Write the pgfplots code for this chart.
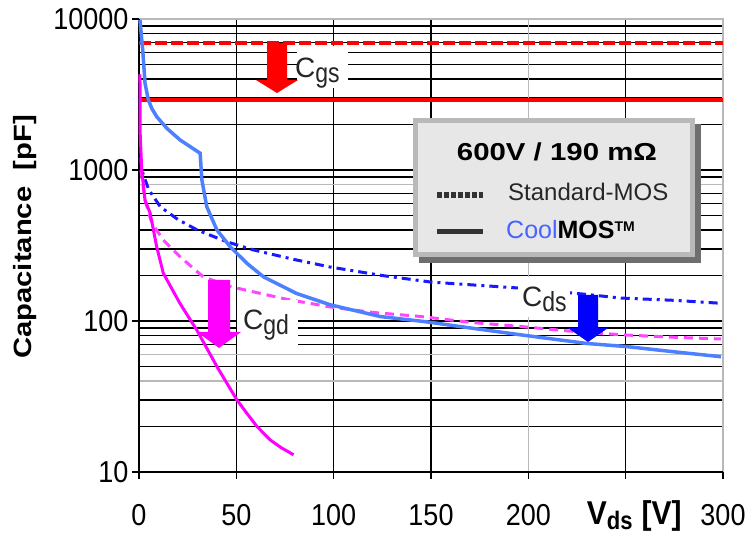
\documentclass[border=0pt]{standalone}
\usepackage{pgfplots}
\pgfplotsset{compat=1.18}
\usepackage{fontspec}
\setmainfont{Liberation Sans}
\usepackage{graphicx}
\definecolor{cblue}{RGB}{77,128,255}
\definecolor{dblue}{RGB}{25,25,255}
\definecolor{mag}{RGB}{255,0,255}
\definecolor{magd}{RGB}{255,70,255}
\definecolor{gridgray}{RGB}{185,185,185}
\definecolor{legfill}{RGB}{231,231,231}
\definecolor{legborder}{RGB}{185,185,185}
\definecolor{legshadow}{RGB}{110,110,110}
\definecolor{cooltext}{RGB}{70,100,255}
\newcommand\tl[1]{\scalebox{1}[1.12]{#1}}
\newcommand\capl[2]{\fontsize{28}{28}\selectfont C\raisebox{-5pt}{\scalebox{1}[1.2]{\fontsize{23}{23}\selectfont #2}}}
\begin{document}
\begin{tikzpicture}
\path[use as bounding box] (-139pt,-65pt) rectangle (616pt,472pt);
\begin{axis}[
  at={(0pt,0pt)}, anchor=south west,
  scale only axis, width=584pt, height=453pt,
  xmin=0, xmax=300, ymin=10, ymax=10000, ymode=log,
  clip=false,
  axis line style={draw=none},
  xtick={0,50,100,150,200,250,300},
  xticklabels={\tl{0},\tl{50},\tl{100},\tl{150},\tl{200},,\tl{300}},
  ytick={10,100,1000,10000},
  yticklabels={\tl{10},\tl{100},\tl{1000},\tl{10000}},
  minor ytick={20,30,40,50,60,70,80,90,200,300,400,500,600,700,800,900,2000,3000,4000,5000,6000,7000,8000,9000},
  xmajorgrids, ymajorgrids, yminorgrids,
  major grid style={black, line width=1.4pt},
  minor grid style={black, line width=1.4pt},
  tick align=outside, xtick pos=bottom, ytick pos=left,
  major tick length=7pt, minor tick length=0pt,
  tick style={black, line width=1.4pt},
  tick label style={font=\fontsize{27}{27}\selectfont},
  xticklabel style={yshift=-22pt},
  xlabel={\scalebox{1}[1.1]{\bfseries V}\raisebox{-5pt}{\scalebox{1}[1.15]{\fontsize{22}{22}\selectfont\bfseries ds}}\hspace{9pt}\scalebox{1}[1.1]{\bfseries [V]}},
  xlabel style={at={(axis description cs:0.848,-0.117)}, anchor=base, font=\fontsize{30}{30}\selectfont},
  ylabel={\scalebox{1.17}[1]{\bfseries Capacitance\ \ [pF]}},
  ylabel style={at={(axis description cs:-0.1955,0.519)}, anchor=center, font=\fontsize{25}{25}\selectfont},
]
% grey grid lines and frame
\draw[gridgray, line width=1.6pt] (axis cs:200,10) -- (axis cs:200,10000);
\draw[gridgray, line width=1.4pt] (axis cs:0,800) -- (axis cs:300,800);
\draw[gridgray, line width=1.4pt] (axis cs:0,60) -- (axis cs:300,60);
\draw[gridgray, line width=1.4pt] (axis cs:0,40) -- (axis cs:300,40);
\draw[gridgray, line width=1.8pt] (axis cs:0,10000) -- (axis cs:300,10000) -- (axis cs:300,10);
\draw[black, line width=1.8pt] (axis cs:0,10000) -- (axis cs:0,10) -- (axis cs:300,10);

% Cgs
\addplot[red, line width=3.8pt, dash pattern=on 12pt off 4pt] coordinates {(0,6900) (300,6900)};
\addplot[red, line width=4.5pt] coordinates {(0,2900) (300,2900)};

% Cds standard (dashed)
\addplot[dblue, line width=3pt, dash pattern=on 9pt off 5pt on 3pt off 5pt] coordinates {
(0.5,1200) (2,950) (5,740) (11,570) (20,470) (30,400) (45,335) (59,295)
(80,255) (98,228) (125,200) (150,181) (196,165) (230,150) (247,142) (275,137) (299,131)};

% Cgd standard (dashed)
\addplot[magd, line width=3pt, dash pattern=on 9pt off 6pt] coordinates {
(1,1000) (3,640) (6,470) (9,400) (12.5,344) (21,267) (33,196) (47,169) (55,160)
(75,140) (98,124) (120,114) (145,107) (170,98) (196,92) (220,86) (248,81) (275,78) (299,76)};

% Cds CoolMOS (solid)
\addplot[cblue, line width=3.5pt] coordinates {
(0.5,9850) (1.9,6240) (3.1,3750) (4.8,2910) (6.5,2566) (9.1,2254) (14.3,1888) (21.1,1581) (31.4,1291)
(32.3,860) (34.8,572) (40,401) (46.8,311) (55.4,241) (64,196) (81,152) (98.3,128)
(124,107) (147,99) (170,90) (196,81) (230,71) (251,67.6) (275,62.5) (299,58)};

% Cgd CoolMOS (solid)
\addplot[mag, line width=3pt] coordinates {
(0.5,4300) (0.6,1760) (1.4,1000) (3.1,630) (5.7,519) (9.1,310) (12.5,207) (21,131)
(29.7,87) (40,50) (50.3,30) (55.4,24.5) (60.6,20) (67.4,16.3) (73,14.5) (79.4,13)};
\end{axis}

% label backgrounds
\fill[white] (158pt,384pt) rectangle (209pt,426pt);
\fill[white] (98pt,124pt) rectangle (159pt,172pt);
\fill[white] (379pt,155pt) rectangle (431pt,195pt);

% arrows
\fill[red] (128pt,429pt) -- (148pt,429pt) -- (148pt,392pt) -- (159pt,392pt) -- (138pt,379pt) -- (117pt,392pt) -- (128pt,392pt) -- cycle;
\fill[mag] (69pt,192pt) -- (91pt,192pt) -- (91pt,140pt) -- (102pt,140pt) -- (80pt,124pt) -- (58pt,140pt) -- (69pt,140pt) -- cycle;
\fill[blue] (439pt,177pt) -- (459pt,177pt) -- (459pt,144pt) -- (469pt,144pt) -- (449pt,130pt) -- (429pt,144pt) -- (439pt,144pt) -- cycle;

% labels
\node[anchor=base west, inner sep=0pt, text=black!85] at (156pt,394pt) {\capl{C}{gs}};
\node[anchor=base west, inner sep=0pt, text=black!85] at (104pt,142pt) {\capl{C}{gd}};
\node[anchor=base west, inner sep=0pt, text=black!85] at (383pt,165pt) {\capl{C}{ds}};

% legend box
\fill[legshadow] (280pt,209pt) rectangle (562pt,348pt);
\fill[legfill] (274pt,215pt) rectangle (556pt,354pt);
\draw[legborder, line width=5pt] (276.5pt,217.5pt) rectangle (553.5pt,351.5pt);
\node[anchor=center, inner sep=0pt] at (418pt,320pt) {\scalebox{1.2}[1]{\fontsize{24.5}{24.5}\selectfont\bfseries 600V / 190 mΩ}};
\draw[black!80, line width=6pt, dash pattern=on 5pt off 2pt] (298pt,277pt) -- (344pt,277pt);
\draw[black!80, line width=5pt] (298pt,240pt) -- (344pt,240pt);
\node[anchor=west, inner sep=0pt] at (369pt,280pt) {\fontsize{24}{24}\selectfont\color{black!85}Standard-MOS};
\node[anchor=west, inner sep=0pt] at (367pt,242pt) {\fontsize{25}{25}\selectfont\textcolor{cooltext}{Cool}\textbf{MOS}{\fontsize{14}{14}\selectfont\raisebox{7pt}{\textbf{TM}}}};
\end{tikzpicture}
\end{document}
